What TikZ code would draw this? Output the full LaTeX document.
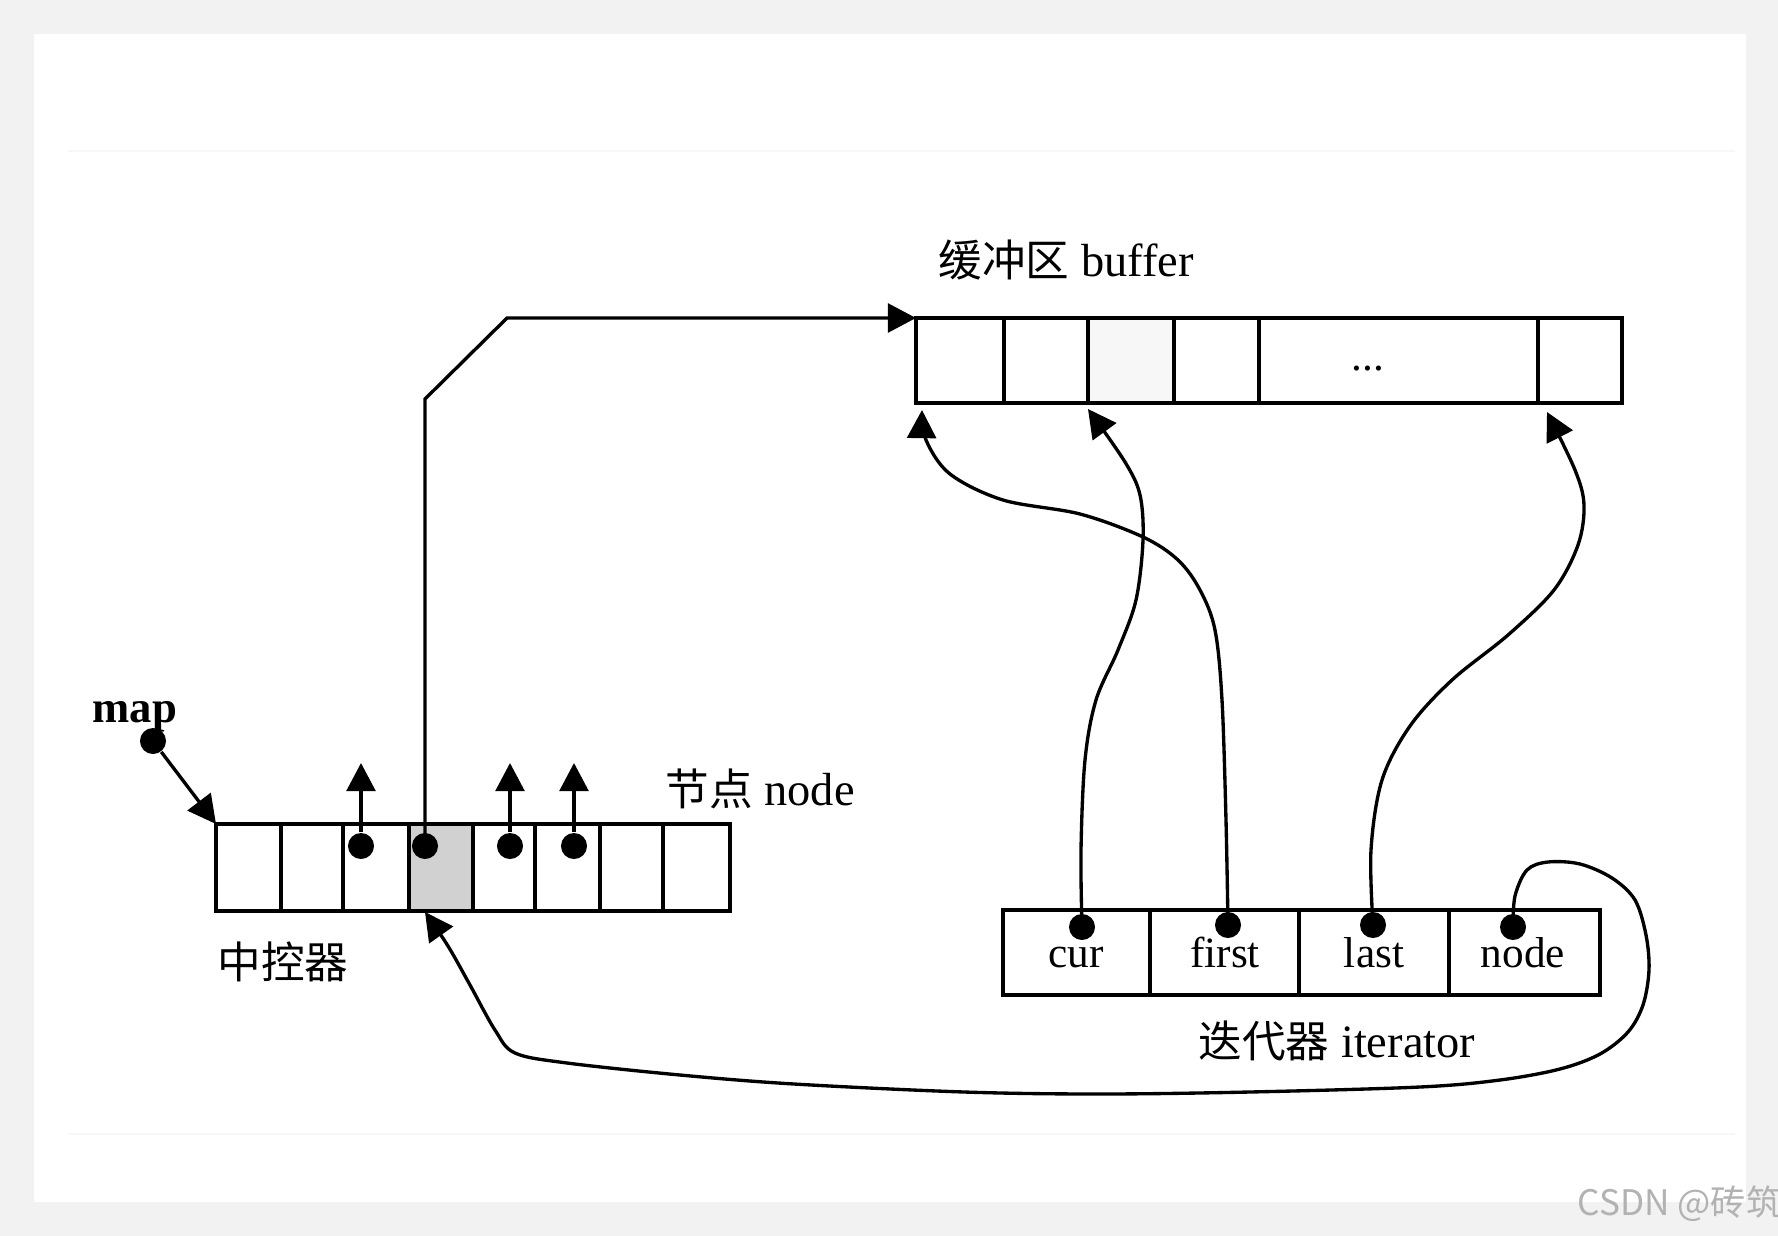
\documentclass[tikz,border=0pt]{standalone}
\usepackage{fontspec}
\setmainfont{Liberation Serif}
\newfontfamily\cjkf{Noto Sans CJK SC}
\usetikzlibrary{arrows.meta}
\newcommand\latfont{\fontsize{13.2}{15}\selectfont}
\newcommand\hanzi[1]{{\cjkf\fontsize{12.4}{15}\selectfont #1}}
\begin{document}
\begin{tikzpicture}[x=0.01cm,y=-0.01cm,
  box/.style={draw=black, line width=1pt},
  conn/.style={line width=0.95pt, -{Triangle[length=8pt,width=8.2pt]}},
  ptr/.style={circle, fill=black, inner sep=0pt, minimum size=7.4pt},
  lbl/.style={inner sep=0pt, font=\latfont},
  field/.style={inner sep=0pt, font=\fontsize{12.3}{14}\selectfont},
  scan/.style={draw=black!3, line width=0.8pt}
]
\useasboundingbox (0,0) rectangle (1778,1236);
% background card
\fill[black!5] (0,0) rectangle (1778,1236);
\fill[white] (34,34) rectangle (1746,1202);
\draw[scan] (68,151) -- (1735,151);
\draw[scan] (68,1134) -- (1735,1134);

% ---------- buffer ----------
\fill[black!3] (1088,318) rectangle (1174,403);
\draw[box] (916,318) rectangle (1622,403);
\foreach \x in {1004,1088,1174,1259,1538} \draw[box] (\x,318) -- (\x,403);
\node[field, anchor=base] (bufdots) at (1368,370) {...};
\node[lbl, anchor=base west] (buflbl) at (938,276) {\hanzi{缓冲区} buffer};
\coordinate (bufTL) at (916,318);
\coordinate (bufA) at (922,410);
\coordinate (bufB) at (1088,409);
\coordinate (bufC) at (1547,412);

% ---------- map (中控器) ----------
\fill[black!18] (409,824) rectangle (473,911);
\draw[box] (216,824) rectangle (730,911);
\foreach \x in {281,343,409,473,535,600,663} \draw[box] (\x,824) -- (\x,911);
\node[lbl, anchor=base west] (nodelbl) at (665,805) {\hanzi{节点} node};
\node[lbl, anchor=base west] (ctrllbl) at (217,978) {\hanzi{中控器}};
\node[inner sep=0pt, anchor=base west, font=\fontsize{12.7}{14}\selectfont\bfseries] (maplbl) at (92,722) {map};
\coordinate (mapTL) at (216,824);
\coordinate (map4B) at (425,912);

\node[ptr] (mapdot) at (153,741) {};
\node[ptr] (m3) at (361,846) {};
\node[ptr] (m4) at (425,846) {};
\node[ptr] (m5) at (510,846) {};
\node[ptr] (m6) at (574,846) {};
\coordinate (m3t) at (361,763);
\coordinate (m5t) at (510,763);
\coordinate (m6t) at (574,763);
\coordinate (bendA) at (425,399);
\coordinate (bendB) at (507,318);

\draw[conn] (mapdot) -- (mapTL);
\draw[conn] (m3) -- (m3t);
\draw[conn] (m5) -- (m5t);
\draw[conn] (m6) -- (m6t);
\draw[conn] (m4.center) -- (bendA) -- (bendB) -- (bufTL);

% ---------- iterator ----------
\draw[box] (1003,910) rectangle (1600,995);
\foreach \x in {1150,1299,1449} \draw[box] (\x,910) -- (\x,995);
\node[field, anchor=base] (fcur) at (1076,967) {cur};
\node[field, anchor=base] (ffirst) at (1225,967) {first};
\node[field, anchor=base] (flast) at (1374,967) {last};
\node[field, anchor=base] (fnode) at (1523,967) {node};
\node[lbl, anchor=base west] (itlbl) at (1198,1057) {\hanzi{迭代器} iterator};

\node[ptr] (icur) at (1082,927) {};
\node[ptr] (ifirst) at (1228,925) {};
\node[ptr] (ilast) at (1373,925) {};
\node[ptr] (inode) at (1513,927) {};

\draw[conn] plot[smooth, tension=0.55] coordinates {(icur) (1081,850) (1085,760) (1096,700) (1118,650) (1136,600) (1143,540) (1140,495) (1125,462) (bufB)};
\draw[conn] plot[smooth, tension=0.55] coordinates {(ifirst) (1226,820) (1222,700) (1215,630) (1200,590) (1178,560) (1143,537) (1080,514) (1003,500) (950,474) (926,440) (bufA)};
\draw[conn] plot[smooth, tension=0.55] coordinates {(ilast) (1371,850) (1382,780) (1410,726) (1452,680) (1508,635) (1554,590) (1578,545) (1584,505) (1575,470) (bufC)};
\draw[conn] plot[smooth, tension=0.55] coordinates {(inode) (1515,896) (1527,870) (1548,862) (1580,864) (1612,878) (1635,900) (1646,935) (1649,970) (1643,1005) (1628,1032) (1600,1054) (1560,1069) (1500,1080) (1420,1087) (1250,1092) (1100,1094) (964,1092) (794,1084) (680,1075) (567,1063) (515,1053) (495,1030) (470,985) (448,946) (map4B)};

% watermark
\node[inner sep=0pt, anchor=west, text=black!30, font=\cjkf\fontsize{10}{12}\selectfont] (wm) at (1577,1204) {CSDN @砖筑};
\end{tikzpicture}
\end{document}
